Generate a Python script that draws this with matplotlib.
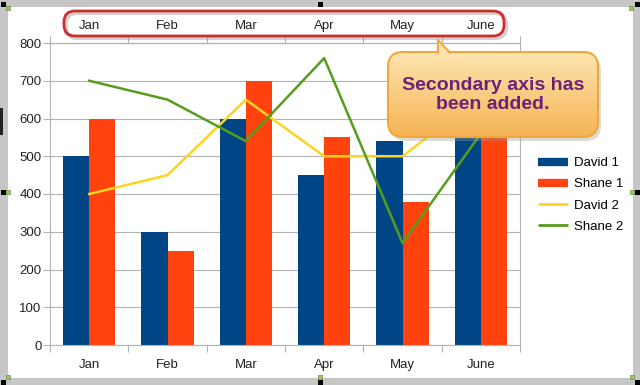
import numpy as np
import matplotlib.pyplot as plt
from matplotlib.patches import FancyBboxPatch, Rectangle, Polygon
from matplotlib.lines import Line2D

months = ['Jan', 'Feb', 'Mar', 'Apr', 'May', 'June']
david1 = [500, 300, 600, 450, 540, 600]
shane1 = [600, 250, 700, 550, 380, 620]
david2 = [400, 450, 650, 500, 500, 660]
shane2 = [700, 650, 540, 760, 270, 560]
yticks = [0, 100, 200, 300, 400, 500, 600, 700, 800]

c_d1, c_s1, c_d2, c_s2 = '#004586', '#ff420e', '#ffd320', '#579d1c'
grey = '#b3b3b3'

plt.rcParams['font.family'] = ['Liberation Sans', 'DejaVu Sans']

fig = plt.figure(figsize=(6.4, 3.85), dpi=100)
fig.patch.set_facecolor('#c6c6c6')
fig.add_artist(Rectangle((8/640, 7/385), 625/640, 371/385, transform=fig.transFigure,
                         facecolor='white', edgecolor='none', zorder=-1))

ax = fig.add_axes([50/640, 40/385, 470/640, 302/385])
ax.set_facecolor('none')
x = np.arange(len(months))
w = 0.333

ax.bar(x - w/2, david1, w, color=c_d1, zorder=2)
ax.bar(x + w/2, shane1, w, color=c_s1, zorder=2)
ax.plot(x, david2, color=c_d2, lw=1.8, zorder=3)
ax.plot(x, shane2, color=c_s2, lw=1.8, zorder=3)

ax.set_xlim(-0.5, 5.5)
ax.set_ylim(0, 800)
ax.set_yticks(yticks)
ax.yaxis.grid(True, color=grey, lw=0.8, zorder=0)
ax.set_axisbelow(True)
for s in ax.spines.values():
    s.set_color(grey)
    s.set_linewidth(0.8)
ax.tick_params(axis='y', length=5, width=0.8, color=grey, pad=1, labelsize=9.5, labelcolor='#222222')

# category boundary ticks, labels in the middle
ax.set_xticks(np.arange(-0.5, 6, 1))
ax.set_xticklabels([])
ax.set_xticks(x, months, minor=True)
ax.tick_params(axis='x', which='major', length=5, width=0.8, color=grey)
ax.tick_params(axis='x', which='minor', length=0, pad=10, labelsize=9.5, labelcolor='#222222')

# secondary x axis on top
sec = ax.secondary_xaxis('top')
sec.set_xticks(np.arange(-0.5, 6, 1))
sec.set_xticklabels([])
sec.set_xticks(x, months, minor=True)
sec.tick_params(axis='x', which='major', length=5, width=0.8, color=grey)
sec.tick_params(axis='x', which='minor', length=0, pad=8, labelsize=9.5, labelcolor='#222222')
sec.spines['top'].set_color(grey)
sec.spines['top'].set_linewidth(0.8)

handles = [Line2D([], [], color=c_d1, lw=6, solid_capstyle='butt'),
           Line2D([], [], color=c_s1, lw=6, solid_capstyle='butt'),
           Line2D([], [], color=c_d2, lw=2, solid_capstyle='butt'),
           Line2D([], [], color=c_s2, lw=2, solid_capstyle='butt')]
fig.legend(handles, ['David 1', 'Shane 1', 'David 2', 'Shane 2'],
           loc='upper left', bbox_to_anchor=(538/640, 1 - 157/385),
           frameon=False, fontsize=9.5, handlelength=2.3, handletextpad=0.4,
           labelspacing=0.68, borderpad=0, borderaxespad=0)

# overlay in pixel coordinates for the annotations
ov = fig.add_axes([0, 0, 1, 1], zorder=5)
ov.set_facecolor('none')
ov.axis('off')

# red rounded box round the top labels
ov.add_patch(FancyBboxPatch((66, 13), 440, 25, boxstyle='round,pad=0,rounding_size=11',
                            fc='none', ec='#999999', lw=3, alpha=0.45))
ov.add_patch(FancyBboxPatch((64, 11), 440, 25, boxstyle='round,pad=0,rounding_size=11',
                            fc='none', ec='#cc2e2a', lw=2))

# callout bubble
ov.add_patch(FancyBboxPatch((391, 56), 210, 85, boxstyle='round,pad=0,rounding_size=15',
                            fc='#999999', ec='none', alpha=0.35))
body = FancyBboxPatch((388, 52), 210, 85, boxstyle='round,pad=0,rounding_size=15',
                      fc='none', ec='#eea83c', lw=1.5)
ov.add_patch(body)
top_c = np.array([253, 228, 176]) / 255
bot_c = np.array([246, 180, 84]) / 255
t = np.linspace(0, 1, 100)[:, None, None]
grad = top_c * (1 - t) + bot_c * t
im = ov.imshow(grad, extent=(388, 598, 137, 52), origin='upper', aspect='auto', zorder=1)
im.set_clip_path(body)
body.set_zorder(2)
ov.add_patch(Polygon([(437.7, 54), (437.7, 40), (450, 54)], closed=True,
                     fc=top_c, ec='none', zorder=3))
ov.plot([437.7, 437.7], [53, 40], color='#eea83c', lw=1.5, zorder=4)
ov.plot([437.7, 450], [40, 52.5], color='#eea83c', lw=1.5, zorder=4)
ov.text(493, 95, 'Secondary axis has\nbeen added.', ha='center', va='center',
        fontsize=14, fontweight='bold', color='#6e2178', linespacing=1.12, zorder=5)

# selection handles
for hx, hy in [(3, 4), (320, 4), (637, 4), (3, 192), (637, 192), (3, 382), (320, 382), (637, 382)]:
    ov.add_patch(Rectangle((hx - 2.5, hy - 2.5), 5, 5, fc='black', ec='none'))
for hx, hy in [(8, 8), (631, 8), (8, 192), (632, 192), (8, 377), (320, 377), (632, 377)]:
    ov.add_patch(Rectangle((hx - 2, hy - 2), 4, 4, fc='#9cc36a', ec='#6d8f3c', lw=0.5))
ov.add_patch(Rectangle((0, 108), 3, 27, fc='#222222', ec='none'))

ov.set_xlim(0, 640)
ov.set_ylim(385, 0)

fig.savefig('out.png', dpi=100)
